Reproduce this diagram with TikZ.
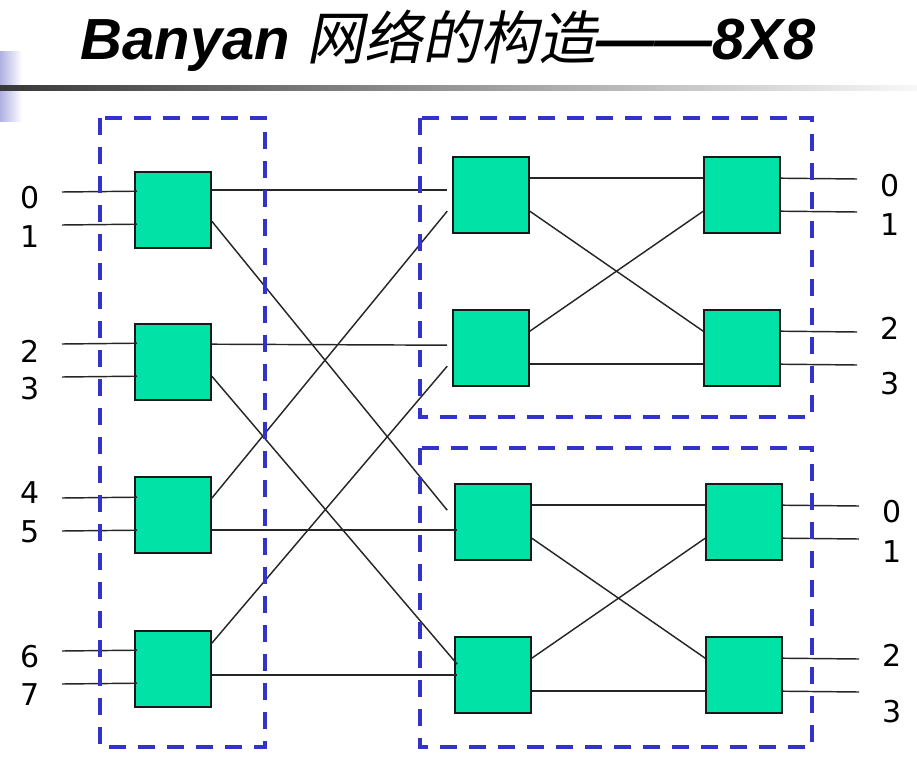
\documentclass[tikz,border=0pt]{standalone}
\usepackage{fontspec}
\usetikzlibrary{calc}
\newfontfamily\titlefont{Liberation Sans}
\newfontfamily\cjkfont{Noto Sans CJK SC}[FakeSlant=0.2]
\newfontfamily\labelfont{DejaVu Sans}
\definecolor{swgreen}{RGB}{0,226,166}
\definecolor{dashblue}{RGB}{51,51,204}
\definecolor{lav}{RGB}{176,176,228}
\begin{document}
\begin{tikzpicture}[x=1pt,y=-1pt,
  switchbox/.style={draw=black!90, line width=1.6pt, fill=swgreen, minimum width=76pt, minimum height=76pt, inner sep=0pt},
  wire/.style={draw=black!85, line width=1.45pt},
  group/.style={draw=dashblue, line width=4pt, dash pattern=on 17pt off 12pt},
  num/.style={font={\labelfont\fontsize{30}{30}\selectfont}, inner sep=0pt}]
\useasboundingbox (0,0) rectangle (917,759);
% header decoration
\shade[left color=lav, right color=white] (0,52) rectangle (22,122);
\shade[left color=black!78, right color=black!3] (0,86) rectangle (917,91);
\node[anchor=base, inner sep=0pt] (title) at (448,60) {\titlefont\bfseries\itshape\fontsize{58}{58}\selectfont Banyan {\cjkfont\mdseries\upshape 网络的构造}——8X8};
% switches
\node[switchbox] (s1) at (173,210) {};
\node[switchbox] (s2) at (173,362) {};
\node[switchbox] (s3) at (173,515) {};
\node[switchbox] (s4) at (173,669) {};
\node[switchbox] (A) at (491,195) {};
\node[switchbox] (B) at (491,348) {};
\node[switchbox] (C) at (742,195) {};
\node[switchbox] (D) at (742,348) {};
\node[switchbox] (E) at (493,522) {};
\node[switchbox] (F) at (493,675) {};
\node[switchbox] (G) at (744,522) {};
\node[switchbox] (H) at (744,675) {};
% free ends
\coordinate (i0) at (62,192); \coordinate (i1) at (62,225);
\coordinate (i2) at (62,344); \coordinate (i3) at (62,377);
\coordinate (i4) at (62,498); \coordinate (i5) at (62,531);
\coordinate (i6) at (62,651); \coordinate (i7) at (62,684);
\coordinate (o0) at (857,179); \coordinate (o1) at (857,212);
\coordinate (o2) at (857,332); \coordinate (o3) at (857,365);
\coordinate (o4) at (859,506); \coordinate (o5) at (859,539);
\coordinate (o6) at (859,659); \coordinate (o7) at (859,692);
% inputs
\draw[wire] (i0) -- ($(s1.north west)+(3,20)$);
\draw[wire] (i1) -- ($(s1.north west)+(3,53)$);
\draw[wire] (i2) -- ($(s2.north west)+(3,20)$);
\draw[wire] (i3) -- ($(s2.north west)+(3,53)$);
\draw[wire] (i4) -- ($(s3.north west)+(3,21)$);
\draw[wire] (i5) -- ($(s3.north west)+(3,54)$);
\draw[wire] (i6) -- ($(s4.north west)+(3,20)$);
\draw[wire] (i7) -- ($(s4.north west)+(3,53)$);
% stage 1 -> stage 2
\draw[wire] ($(s1.north east)+(0,19)$) -- ($(A.north west)+(-5,34)$);
\draw[wire] ($(s1.north east)+(0,50)$) -- ($(E.north west)+(-7,27)$);
\draw[wire] ($(s2.north east)+(0,21)$) -- ($(B.north west)+(-5,36)$);
\draw[wire] ($(s2.north east)+(0,53)$) -- ($(F.north west)+(3,28)$);
\draw[wire] ($(s3.north east)+(0,22)$) -- ($(A.north west)+(-5,55)$);
\draw[wire] ($(s3.north east)+(0,54)$) -- ($(E.north west)+(3,47)$);
\draw[wire] ($(s4.north east)+(0,13)$) -- ($(B.north west)+(-5,57)$);
\draw[wire] ($(s4.north east)+(0,45)$) -- ($(F.north west)+(3,39)$);
% stage 2 -> stage 3
\draw[wire] ($(A.north east)+(0,22)$) -- ($(C.north west)+(0,22)$);
\draw[wire] ($(A.north east)+(0,55)$) -- ($(D.north west)+(0,22)$);
\draw[wire] ($(B.north east)+(0,22)$) -- ($(C.north west)+(0,55)$);
\draw[wire] ($(B.north east)+(0,55)$) -- ($(D.north west)+(0,55)$);
\draw[wire] ($(E.north east)+(0,22)$) -- ($(G.north west)+(0,22)$);
\draw[wire] ($(E.north east)+(0,55)$) -- ($(H.north west)+(0,22)$);
\draw[wire] ($(F.north east)+(0,22)$) -- ($(G.north west)+(0,55)$);
\draw[wire] ($(F.north east)+(0,55)$) -- ($(H.north west)+(0,55)$);
% outputs
\draw[wire] ($(C.north east)+(0,22)$) -- (o0);
\draw[wire] ($(C.north east)+(0,55)$) -- (o1);
\draw[wire] ($(D.north east)+(0,22)$) -- (o2);
\draw[wire] ($(D.north east)+(0,55)$) -- (o3);
\draw[wire] ($(G.north east)+(0,22)$) -- (o4);
\draw[wire] ($(G.north east)+(0,55)$) -- (o5);
\draw[wire] ($(H.north east)+(0,22)$) -- (o6);
\draw[wire] ($(H.north east)+(0,55)$) -- (o7);
% groups
\draw[group] (100,118) rectangle (265,747);
\draw[group] (420,118) rectangle (812,417);
\draw[group] (420,448) rectangle (812,747);
% labels
\node[num] (l0) at (30,198) {0};
\node[num] (l1) at (30,237) {1};
\node[num] (l2) at (30,351) {2};
\node[num] (l3) at (30,389) {3};
\node[num] (l4) at (30,493) {4};
\node[num] (l5) at (30,532) {5};
\node[num] (l6) at (30,657) {6};
\node[num] (l7) at (30,695) {7};
\node[num] (r0) at (890,186) {0};
\node[num] (r1) at (890,225) {1};
\node[num] (r2) at (890,328) {2};
\node[num] (r3) at (890,384) {3};
\node[num] (r4) at (892,512) {0};
\node[num] (r5) at (892,552) {1};
\node[num] (r6) at (892,655) {2};
\node[num] (r7) at (892,712) {3};
\end{tikzpicture}
\end{document}
